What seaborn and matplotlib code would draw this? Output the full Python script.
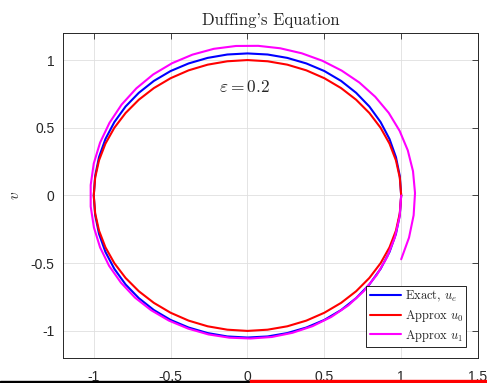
import matplotlib
matplotlib.use("Agg")
import matplotlib.pyplot as plt
import seaborn as sns
from matplotlib.patches import Rectangle

# phase-plane points (u, v), eps = 0.2
exact_u = [1.0, 0.991, 0.966, 0.924, 0.866, 0.793, 0.707, 0.609, 0.5, 0.383, 0.259, 0.131, 0.0,
           -0.131, -0.259, -0.383, -0.5, -0.609, -0.707, -0.793, -0.866, -0.924, -0.966, -0.991, -1.0,
           -0.991, -0.966, -0.924, -0.866, -0.793, -0.707, -0.609, -0.5, -0.383, -0.259, -0.131, 0.0,
           0.131, 0.259, 0.383, 0.5, 0.609, 0.707, 0.793, 0.866, 0.924, 0.966, 0.991, 1.0]
exact_v = [0.0, -0.143, -0.283, -0.417, -0.542, -0.657, -0.758, -0.846, -0.919, -0.975, -1.016, -1.041, -1.049,
           -1.041, -1.016, -0.975, -0.919, -0.846, -0.758, -0.657, -0.542, -0.417, -0.283, -0.143, 0.0,
           0.143, 0.283, 0.417, 0.542, 0.657, 0.758, 0.846, 0.919, 0.975, 1.016, 1.041, 1.049,
           1.041, 1.016, 0.975, 0.919, 0.846, 0.758, 0.657, 0.542, 0.417, 0.283, 0.143, 0.0]

approx0_u = [1.0, 0.991, 0.966, 0.924, 0.866, 0.793, 0.707, 0.609, 0.5, 0.383, 0.259, 0.131, 0.0,
             -0.131, -0.259, -0.383, -0.5, -0.609, -0.707, -0.793, -0.866, -0.924, -0.966, -0.991, -1.0,
             -0.991, -0.966, -0.924, -0.866, -0.793, -0.707, -0.609, -0.5, -0.383, -0.259, -0.131, 0.0,
             0.131, 0.259, 0.383, 0.5, 0.609, 0.707, 0.793, 0.866, 0.924, 0.966, 0.991, 1.0]
approx0_v = [0.0, -0.131, -0.259, -0.383, -0.5, -0.609, -0.707, -0.793, -0.866, -0.924, -0.966, -0.991, -1.0,
             -0.991, -0.966, -0.924, -0.866, -0.793, -0.707, -0.609, -0.5, -0.383, -0.259, -0.131, 0.0,
             0.131, 0.259, 0.383, 0.5, 0.609, 0.707, 0.793, 0.866, 0.924, 0.966, 0.991, 1.0,
             0.991, 0.966, 0.924, 0.866, 0.793, 0.707, 0.609, 0.5, 0.383, 0.259, 0.131, 0.0]

approx1_u = [1.0, 0.990, 0.959, 0.909, 0.841, 0.756, 0.657, 0.545, 0.423, 0.293, 0.158, 0.020, -0.118,
             -0.254, -0.386, -0.511, -0.627, -0.732, -0.823, -0.900, -0.959, -0.999, -1.020, -1.020, -1.0,
             -0.959, -0.898, -0.819, -0.723, -0.613, -0.490, -0.358, -0.219, -0.075, 0.070, 0.213, 0.353,
             0.487, 0.613, 0.728, 0.831, 0.919, 0.990, 1.043, 1.077, 1.090, 1.081, 1.051, 1.0]
approx1_v = [0.0, -0.156, -0.309, -0.454, -0.587, -0.707, -0.811, -0.897, -0.965, -1.014, -1.045, -1.056, -1.05,
             -1.026, -0.983, -0.924, -0.847, -0.754, -0.644, -0.520, -0.383, -0.236, -0.081, 0.077, 0.236,
             0.390, 0.536, 0.671, 0.791, 0.894, 0.977, 1.040, 1.083, 1.104, 1.105, 1.087, 1.05,
             0.995, 0.922, 0.834, 0.729, 0.610, 0.477, 0.333, 0.179, 0.018, -0.146, -0.311, -0.471]

xticks = [-1, -0.5, 0, 0.5, 1, 1.5]
xtick_labels = ["-1", "-0.5", "0", "0.5", "1", "1.5"]
yticks = [-1, -0.5, 0, 0.5, 1]
ytick_labels = ["-1", "-0.5", "0", "0.5", "1"]

sns.set_style("white")
plt.rcParams['font.family'] = ['Liberation Sans', 'DejaVu Sans']
plt.rcParams['mathtext.fontset'] = 'cm'

fig = plt.figure(figsize=(4.87, 3.83), dpi=100)
ax = fig.add_axes([0.1294, 0.0653, 0.8522, 0.8486])

sns.lineplot(x=exact_u, y=exact_v, sort=False, estimator=None, color=(0, 0, 1), linewidth=1.5,
             label="Exact, $u_e$", ax=ax)
sns.lineplot(x=approx0_u, y=approx0_v, sort=False, estimator=None, color=(1, 0, 0), linewidth=1.5,
             label="Approx $u_0$", ax=ax)
sns.lineplot(x=approx1_u, y=approx1_v, sort=False, estimator=None, color=(1, 0, 1), linewidth=1.5,
             label="Approx $u_1$", ax=ax)

ax.set_xlim(-1.2, 1.5)
ax.set_ylim(-1.2, 1.2)
ax.set_xticks(xticks)
ax.set_xticklabels(xtick_labels)
ax.set_yticks(yticks)
ax.set_yticklabels(ytick_labels)
ax.grid(True, color='#dfdfdf', linewidth=0.6)
ax.set_axisbelow(True)
ax.tick_params(direction='in', top=True, right=True, length=4, width=0.6,
               colors='#262626', labelsize=10, pad=6)
ax.tick_params(axis='x', pad=9)
for sp in ax.spines.values():
    sp.set_color('#262626')
    sp.set_linewidth(0.7)

ax.set_title("Duffing's Equation", fontfamily='cmr10', fontsize=12, pad=6)
ax.set_ylabel('$v$', fontsize=11, labelpad=6, color='#262626')
ax.set_xlabel('')
ax.text(-0.02, 0.8, r'$\varepsilon = 0.2$', fontsize=12.5, ha='center', va='center')

leg = ax.legend(loc='lower right', bbox_to_anchor=(0.971, 0.034), borderaxespad=0,
                prop={'family': 'cmr10', 'size': 9}, fancybox=False, edgecolor='black',
                framealpha=1, handlelength=2.5, handletextpad=0.3, labelspacing=0.3,
                borderpad=0.25)
leg.get_frame().set_linewidth(0.6)

# strip at the very bottom of the reference crop
fig.add_artist(Rectangle((0, 0), 250 / 487, 2.5 / 383, transform=fig.transFigure, color='black'))
fig.add_artist(Rectangle((250 / 487, 0), 237 / 487, 3 / 383, transform=fig.transFigure, color='red'))

fig.savefig("out.png", dpi=100)
